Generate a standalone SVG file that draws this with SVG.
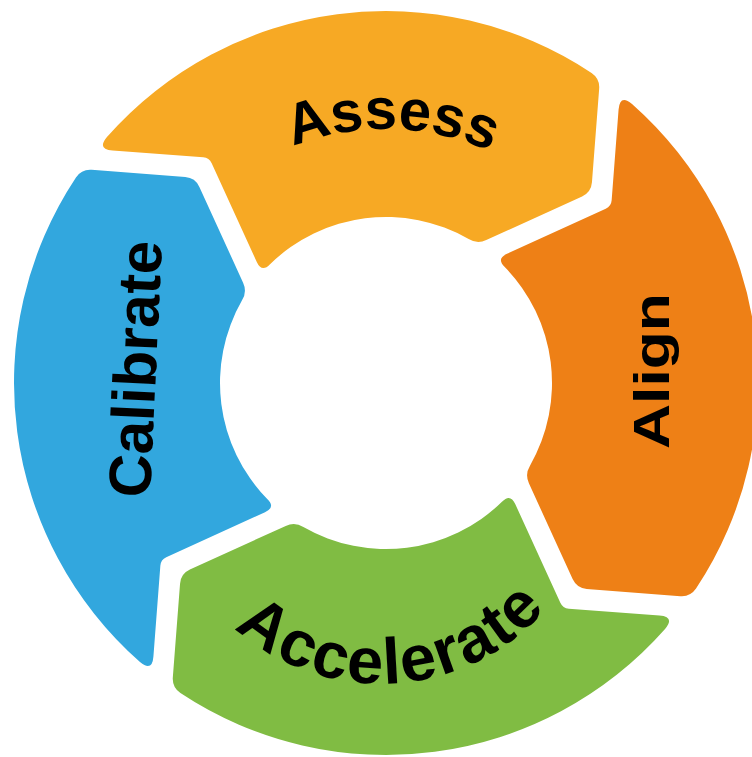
<svg xmlns="http://www.w3.org/2000/svg" width="752" height="757" viewBox="0 0 752 757">
  <defs>
    <style>
      .label { font-family: "Liberation Sans", Arial, sans-serif; font-weight: bold; fill: #000; }
    </style>
    <!-- One ring segment, centred on the top, notch on the left end and arrow tip on the right end.
         Outer radius 372, inner radius 166, 21px gaps between neighbours. -->
    <path id="segment" d="M -242.09 -282.45
      A 372 372 0 0 1 246.72 -278.41
      Q 254.2 -271.6 252.06 -261.83
      L 231.89 -170.13
      Q 229.75 -160.36 220.16 -157.51
      L 119.19 -127.55
      Q 109.6 -124.7 101.86 -131.08
      A 166 166 0 0 0 -98.32 -133.75
      Q -107.7 -126.3 -111.12 -137.8
      L -142.05 -241.86
      Q -143.76 -247.61 -149.62 -248.9
      L -238.37 -268.37
      Q -254 -271.8 -242.09 -282.45 Z"/>
    <path id="assess-arc" d="M 166 256 A 254 254 0 0 1 606 256"/>
    <path id="accelerate-arc" d="M 162 465 A 219 219 0 0 0 600 465"/>
  </defs>

  <rect width="752" height="757" fill="#ffffff"/>

  <g id="assess">
    <use href="#segment" transform="translate(386 383) rotate(-8)" fill="#F7A924"/>
    <text class="label" font-size="58"><textPath href="#assess-arc" startOffset="51.2%" text-anchor="middle">Assess</textPath></text>
  </g>

  <g id="align">
    <use href="#segment" transform="translate(386 383) rotate(82)" fill="#EE8016"/>
    <text class="label" font-size="50" x="669" y="371" text-anchor="middle" textLength="156" lengthAdjust="spacingAndGlyphs" transform="rotate(-90 669 371)">Align</text>
  </g>

  <g id="accelerate">
    <use href="#segment" transform="translate(386 383) rotate(172)" fill="#80BC43"/>
    <text class="label" font-size="65" letter-spacing="2"><textPath href="#accelerate-arc" startOffset="52%" text-anchor="middle">Accelerate</textPath></text>
  </g>

  <g id="calibrate">
    <use href="#segment" transform="translate(386 383) rotate(262)" fill="#32A7DE"/>
    <text class="label" font-size="60" x="156" y="370" text-anchor="middle" transform="rotate(-87.3 156 370)">Calibrate</text>
  </g>
</svg>
